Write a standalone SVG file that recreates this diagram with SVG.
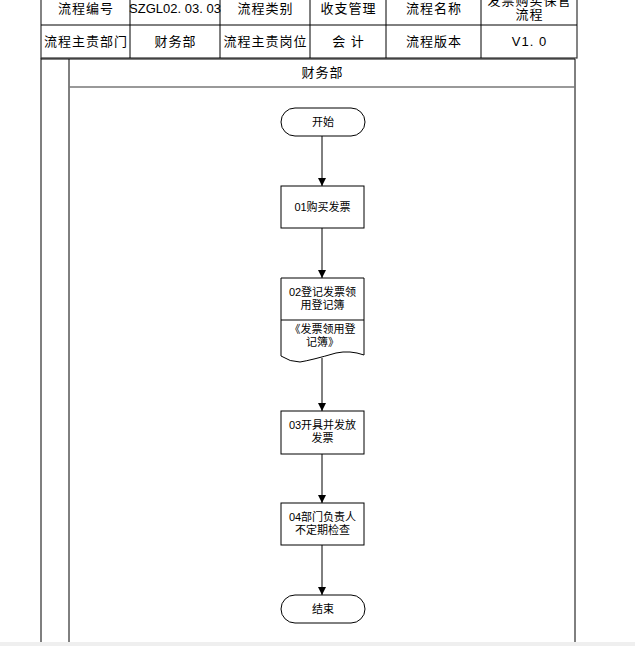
<svg xmlns="http://www.w3.org/2000/svg" width="635" height="646" viewBox="0 0 635 646">
<defs>
<style>
.t{font-family:"Liberation Sans","Noto Sans CJK SC",sans-serif;font-size:13px;fill:#000;text-anchor:middle;letter-spacing:1px}
.s{letter-spacing:0}
.n{font-family:"Liberation Sans","Noto Sans CJK SC",sans-serif;font-size:11px;fill:#000;text-anchor:middle}
.b{fill:#fff;stroke:#000;stroke-width:1}
.g{stroke:#000;stroke-width:1;fill:none}
.c{stroke:#000;stroke-width:1;fill:none;marker-end:url(#ah)}
</style>
<marker id="ah" viewBox="0 0 10 10" refX="10" refY="5" markerWidth="8" markerHeight="8" markerUnits="userSpaceOnUse" orient="auto">
<path d="M0,0 L10,5 L0,10 z" fill="#000"/>
</marker>
</defs>
<rect width="635" height="646" fill="#fff"/>
<rect x="0" y="642" width="635" height="4" fill="#efefef"/>
<g id="table">
<rect x="41" y="-5" width="536" height="63" fill="#fff" stroke="#333" stroke-width="1.2"/>
<line class="g" x1="41" y1="25" x2="577" y2="25"/>
<line class="g" x1="130" y1="-5" x2="130" y2="58"/>
<line class="g" x1="220" y1="-5" x2="220" y2="58"/>
<line class="g" x1="310" y1="-5" x2="310" y2="58"/>
<line class="g" x1="386" y1="-5" x2="386" y2="58"/>
<line class="g" x1="481" y1="-5" x2="481" y2="58"/>
<text class="t" x="86" y="13">流程编号</text>
<text class="t s" x="175" y="13">SZGL02. 03. 03</text>
<text class="t" x="265.5" y="13">流程类别</text>
<text class="t" x="348.5" y="13">收支管理</text>
<text class="t" x="434" y="13">流程名称</text>
<text class="t" x="529.5" y="5">发票购买保管</text>
<text class="t" x="529.5" y="19">流程</text>
<text class="t" x="86" y="46">流程主责部门</text>
<text class="t" x="175.5" y="46">财务部</text>
<text class="t" x="265.5" y="46">流程主责岗位</text>
<text class="t" x="348.5" y="46">会 计</text>
<text class="t" x="434" y="46">流程版本</text>
<text class="t" x="529.5" y="46">V1. 0</text>
</g>
<g id="lane">
<line x1="41" y1="58" x2="41" y2="642" stroke="#555" stroke-width="1.5"/>
<line class="g" x1="69" y1="59" x2="69" y2="642"/>
<line class="g" x1="575" y1="59" x2="575" y2="642"/>
<line class="g" x1="41" y1="59" x2="575" y2="59"/>
<line x1="69" y1="87" x2="575" y2="87" stroke="#777" stroke-width="1.5"/>
<text class="t" x="322.5" y="77">财务部</text>
</g>
<g id="connectors">
<line class="c" x1="322" y1="136" x2="322" y2="186"/>
<line class="c" x1="322" y1="228" x2="322" y2="278"/>
<line class="c" x1="322" y1="358" x2="322" y2="411"/>
<line class="c" x1="322" y1="454" x2="322" y2="503"/>
<line class="c" x1="322" y1="545" x2="322" y2="595"/>
</g>
<g id="start">
<rect class="b" x="281" y="108" width="84" height="28" rx="14"/>
<text class="n" x="323" y="126">开始</text>
</g>
<g id="n01">
<rect class="b" x="281" y="186" width="83" height="42"/>
<text class="n" x="322.5" y="211">01购买发票</text>
</g>
<g id="n02">
<path class="b" d="M281,278 H364 V355 Q350,350 336,353 Q312,360 300,362 Q290,362 281,356 Z"/>
<line class="g" x1="281" y1="320" x2="364" y2="320"/>
<text class="n" x="322.5" y="296">02登记发票领</text>
<text class="n" x="322.5" y="309">用登记簿</text>
<text class="n" x="322.5" y="333">《发票领用登</text>
<text class="n" x="322.5" y="346">记簿》</text>
</g>
<g id="n03">
<rect class="b" x="281" y="411" width="83" height="43"/>
<text class="n" x="322.5" y="429">03开具并发放</text>
<text class="n" x="322.5" y="442">发票</text>
</g>
<g id="n04">
<rect class="b" x="281" y="503" width="83" height="42"/>
<text class="n" x="322.5" y="521">04部门负责人</text>
<text class="n" x="322.5" y="534">不定期检查</text>
</g>
<g id="end">
<rect class="b" x="281" y="595" width="84" height="28" rx="14"/>
<text class="n" x="323" y="613">结束</text>
</g>
</svg>
